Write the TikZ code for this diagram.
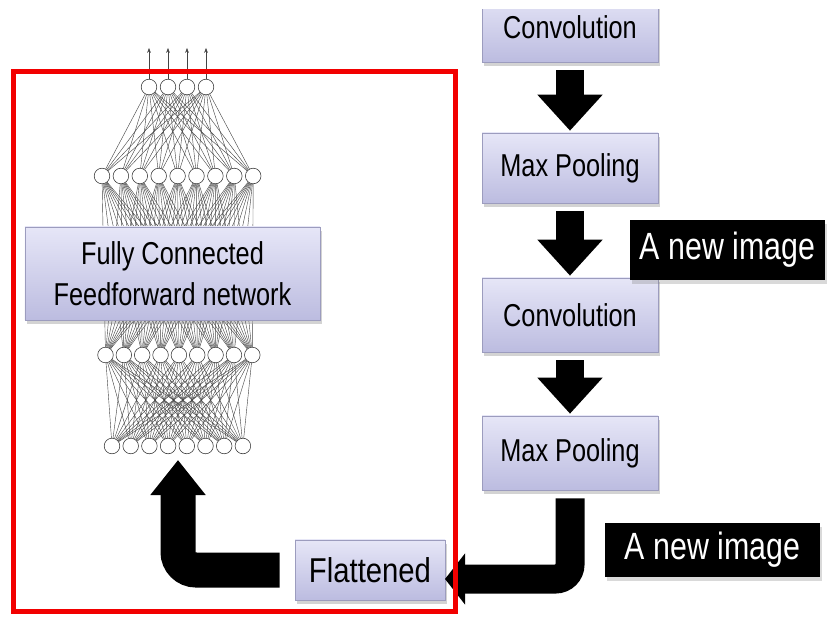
\documentclass[tikz,border=0pt]{standalone}
\usepackage{fontspec}
\setmainfont{Liberation Sans}
\newfontfamily\stagefont{Liberation Sans}[FakeStretch=0.8]
\newfontfamily\flatfont{Liberation Sans}[FakeStretch=0.85]
\newfontfamily\tagfont{Liberation Sans}[FakeStretch=0.8]
\usetikzlibrary{arrows.meta,shadows}
\usepackage{xcolor}
\definecolor{lavtop}{HTML}{E6E6F7}
\definecolor{lavbot}{HTML}{BCBCE0}
\definecolor{lavline}{HTML}{9C9CBE}
\definecolor{frame}{HTML}{F20000}
\definecolor{wire}{HTML}{444444}

\begin{document}
\begin{tikzpicture}[x=0.25mm, y=-0.25mm,
		stage/.style={draw=lavline, top color=lavtop, bottom color=lavbot, inner sep=0pt,
			minimum width=44mm, minimum height=17.5mm, align=center,
			drop shadow={shadow xshift=0.4mm, shadow yshift=-0.9mm, opacity=0.35},
			font=\stagefont\fontsize{22.5}{29}\selectfont},
		tag/.style={fill=black, text=white, inner sep=0pt, minimum height=15mm,
			drop shadow={shadow xshift=0.4mm, shadow yshift=-0.9mm, opacity=0.3},
			font=\tagfont\fontsize{27}{30}\selectfont},
		neuron/.style={circle, draw=black!80, fill=white, line width=0.4pt,
			minimum size=3.9mm, inner sep=0pt},
		link/.style={draw=wire, line width=0.3pt},
		bigarrow/.style={line width=7mm, -{Triangle[width=15.75mm,length=9mm]},
			shorten <=2mm, shorten >=0.5mm}
	]
	\useasboundingbox (0,0) rectangle (827,617);
	%
	% pipeline on the right
	\begin{scope}
		\clip (0,10) rectangle (827,617);
		\node[stage] (conv1) at (570,27) {Convolution};
	\end{scope}
	\node[stage] (pool1) at (570,168) {Max Pooling};
	\node[stage, minimum height=18.5mm] (conv2) at (570,315) {Convolution};
	\node[stage, minimum height=18.5mm] (pool2) at (570,453) {Max Pooling};
	\node[tag, minimum width=48.75mm] (tag1) at (727.5,250) {A new image};
	\node[tag, minimum width=53.75mm, minimum height=13.5mm] (tag2) at (712.5,550) {A new image};
	\node[stage, minimum width=37.5mm, minimum height=15mm,
		font=\flatfont\fontsize{24.5}{28}\selectfont] (flat) at (370,570) {Flattened};
	%
	\draw[bigarrow] (conv1) -- (pool1);
	\draw[bigarrow] (pool1) -- (conv2);
	\draw[bigarrow] (conv2) -- (pool2);
	%
	% the network
	\foreach \i in {1,...,4}
		\node[neuron] (o\i) at ({149+19*(\i-1)},87) {};
	\foreach \i in {1,...,9}
		\node[neuron] (h\i) at ({102+18.9*(\i-1)},176) {};
	\foreach \i in {1,...,9}
		\node[neuron] (g\i) at ({105.5+18.35*(\i-1)},355) {};
	\foreach \i in {1,...,8}
		\node[neuron] (n\i) at ({112+18.7*(\i-1)},446) {};
	\foreach \i in {1,...,4}
		\foreach \j in {1,...,9}
			\draw[link] (o\i) -- (h\j);
	\foreach \i in {1,...,9}
		\foreach \j in {1,...,9}
			\draw[link] (h\i) -- (g\j);
	\foreach \i in {1,...,9}
		\foreach \j in {1,...,8}
			\draw[link] (g\i) -- (n\j);
	\foreach \i in {1,...,4} {
		\coordinate (top\i) at ({149+19*(\i-1)},48);
		\draw[link, -{Stealth[length=1.2mm,width=0.9mm]}] (o\i) -- (top\i);
	}
	\node[stage, minimum width=73.75mm, minimum height=23.25mm] (fc) at (172.5,273.5)
		{Fully Connected\\Feedforward network};
	%
	% bent arrows
	\coordinate (flatin) at (445,579);
	\coordinate (netin) at (178,460);
	\draw[bigarrow, line width=7.25mm, -{Triangle[width=12.5mm,length=5mm]},
		shorten >=0pt, rounded corners=3.6mm] (pool2.south) |- (flatin);
	\draw[bigarrow, line width=8.75mm, -{Triangle[width=13.25mm,length=8.75mm]},
		shorten <=3.75mm, shorten >=0pt, rounded corners=4.5mm] (flat.west) -| (netin);
	%
	\draw[frame, line width=1.25mm] (13.5,72) rectangle (455.5,611);
\end{tikzpicture}
\end{document}
